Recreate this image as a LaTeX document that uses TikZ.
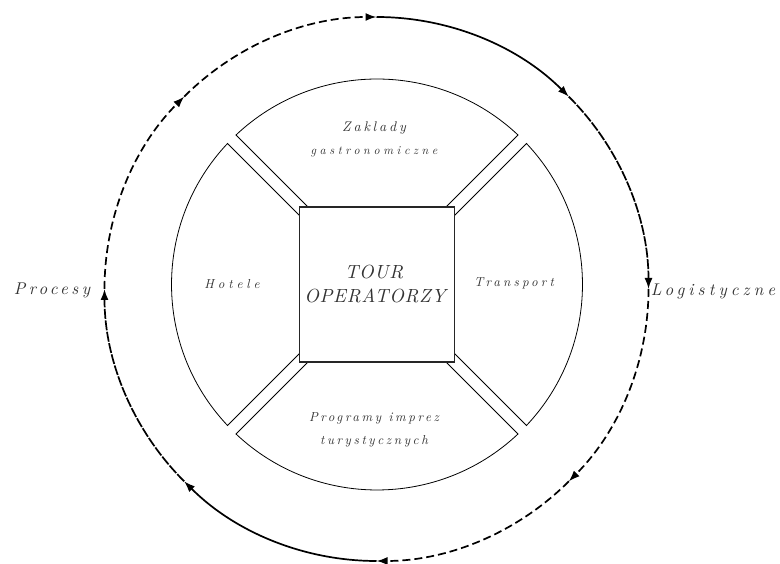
\documentclass[tikz,border=0pt]{standalone}
\usepackage{fontspec}
\usetikzlibrary{arrows.meta}
\newfontfamily\lsa[LetterSpace=20]{lmroman10-italic.otf}
\newfontfamily\lsb[LetterSpace=24]{lmroman10-italic.otf}
\newfontfamily\lsc[LetterSpace=30]{lmroman10-italic.otf}
\newfontfamily\lsd[LetterSpace=4]{lmroman10-italic.otf}
\newcommand{\fsz}[1]{\fontsize{#1}{#1}\selectfont}
\tikzset{
  lbl/.style={text=black!80, inner sep=0pt, anchor=base},
  outerarc/.style={line width=1.7pt, -{Latex[length=11pt,width=8pt]}},
  bigdash/.style={outerarc, dash pattern=on 8pt off 4pt},
  densedash/.style={outerarc, dash pattern=on 10pt off 1.5pt},
  solidarc/.style={outerarc},
  sector/.style={draw, line width=0.8pt},
  sqbox/.style={draw=black!85, line width=1.1pt, minimum size=155pt, inner sep=0pt, fill=white},
}
\begin{document}
\begin{tikzpicture}[x=1pt,y=1pt]
\useasboundingbox (0,0) rectangle (780,564);
\coordinate (C) at (377,279.5);
\coordinate (O) at (376.5,275);
% inner sectors
\draw[sector] (308,357) -- ([shift={(133.33:205.5)}]C) arc[start angle=133.33, end angle=46.67, radius=205.5] -- (446,357);
\draw[sector] (454.5,348.5) -- ([shift={(43.33:205.5)}]C) arc[start angle=43.33, end angle=-43.33, radius=205.5] -- (454.5,210.5);
\draw[sector] (446,202) -- ([shift={(-46.67:205.5)}]C) arc[start angle=-46.67, end angle=-133.33, radius=205.5] -- (308,202);
\draw[sector] (299.5,210.5) -- ([shift={(223.33:205.5)}]C) arc[start angle=223.33, end angle=136.67, radius=205.5] -- (299.5,348.5);
% central square
\node[sqbox] (sq) at (C) {};
\node[lbl, font=\lsd\fsz{19}] (tour) at (374,285) {TOUR};
\node[lbl, font=\lsd\fsz{19}] (oper) at (375,261) {OPERATORZY};
% sector labels
\node[lbl, font=\lsa\fsz{14}] (zak) at (374,432) {Zaklady};
\node[lbl, font=\lsc\fsz{12}] (gas) at (374,409) {gastronomiczne};
\node[lbl, font=\lsc\fsz{13}] (hot) at (232,275) {Hotele};
\node[lbl, font=\lsb\fsz{13}] (tra) at (514,277) {Transport};
\node[lbl, font=\lsa\fsz{13}] (pro) at (374,142) {Programy imprez};
\node[lbl, font=\lsa\fsz{13}] (tur) at (374,119) {turystycznych};
% side labels
\node[lbl, font=\lsa\fsz{17}] (proc) at (52,269) {Procesy};
\node[lbl, font=\lsb\fsz{17}] (log) at (713,268) {Logistyczne};
% outer cycle
\draw[bigdash] ([shift={(180:272)}]O) arc[start angle=180, end angle=135, radius=272];
\draw[bigdash] ([shift={(135:272)}]O) arc[start angle=135, end angle=90, radius=272];
\draw[solidarc] ([shift={(90:272)}]O) arc[start angle=90, end angle=45, radius=272];
\draw[densedash] ([shift={(45:272)}]O) arc[start angle=45, end angle=0, radius=272];
\draw[bigdash] ([shift={(0:272)}]O) arc[start angle=0, end angle=-45, radius=272];
\draw[bigdash] ([shift={(-45:272)}]O) arc[start angle=-45, end angle=-90, radius=272];
\draw[solidarc] ([shift={(-90:272)}]O) arc[start angle=-90, end angle=-135, radius=272];
\draw[densedash] ([shift={(-135:272)}]O) arc[start angle=-135, end angle=-180, radius=272];
\end{tikzpicture}
\end{document}
